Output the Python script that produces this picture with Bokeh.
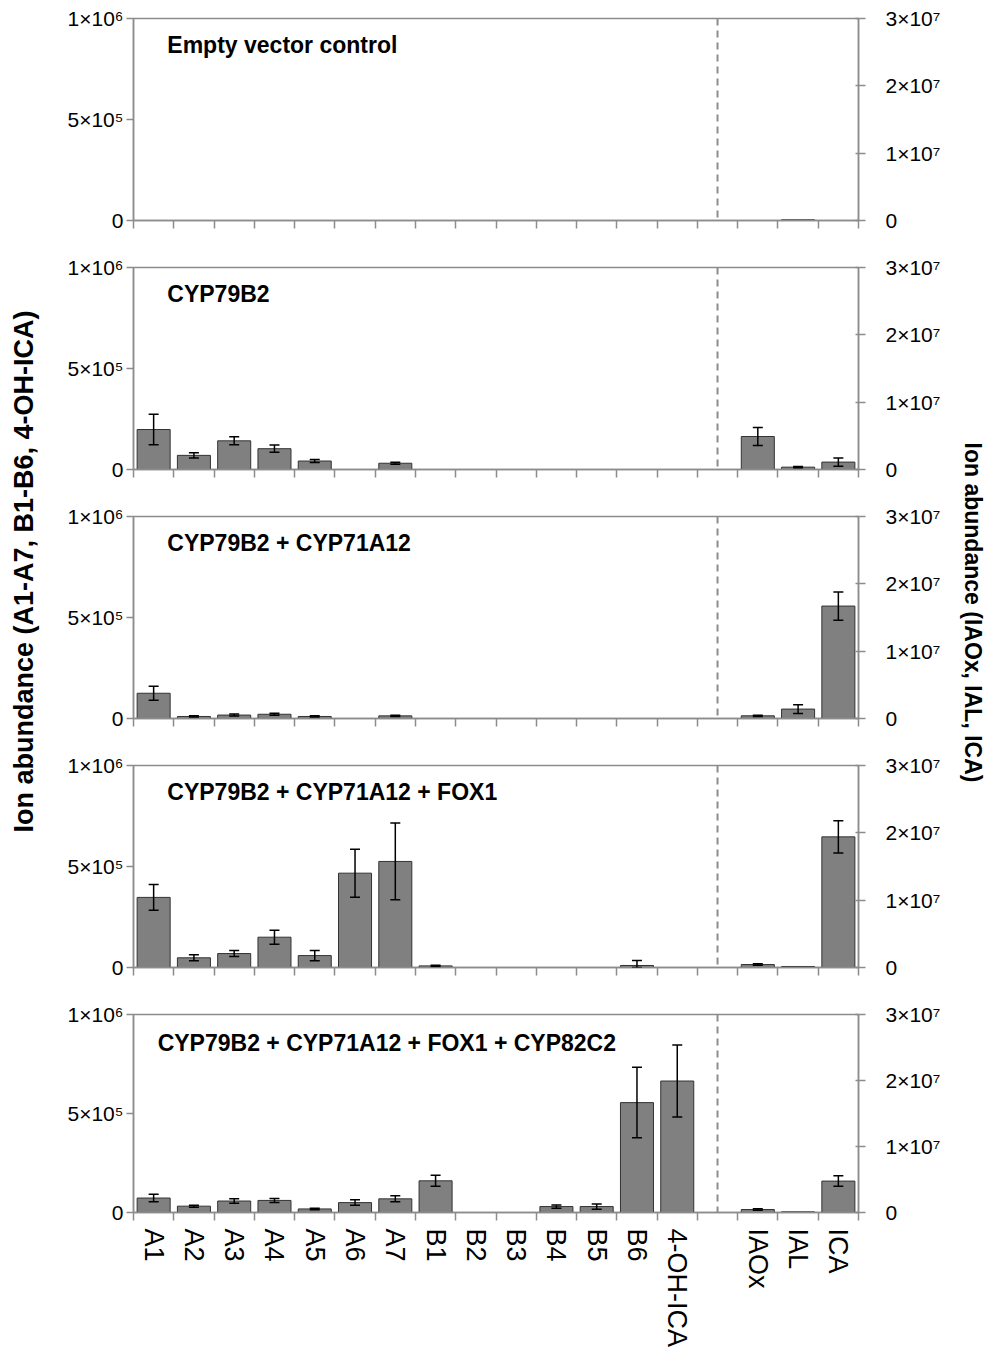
import math
from bokeh.plotting import figure
from bokeh.layouts import column, row
from bokeh.models import (Range1d, LinearAxis, FixedTicker, Span, Label, Whisker,
                          TeeHead, ColumnDataSource)
from bokeh.embed import file_html
from bokeh.resources import INLINE

# ---------------- data ----------------
left_cats = ["A1", "A2", "A3", "A4", "A5", "A6", "A7",
             "B1", "B2", "B3", "B4", "B5", "B6", "4-OH-ICA"]
right_cats = ["IAOx", "IAL", "ICA"]

panel_titles = ["Empty vector control",
                "CYP79B2",
                "CYP79B2 + CYP71A12",
                "CYP79B2 + CYP71A12 + FOX1",
                "CYP79B2 + CYP71A12 + FOX1 + CYP82C2"]

# left-axis compounds (A1-A7, B1-B6, 4-OH-ICA), ion abundance
empty_left = [0, 0, 0, 0, 0, 0, 0, 0, 0, 0, 0, 0, 0, 0]
empty_left_err = [0, 0, 0, 0, 0, 0, 0, 0, 0, 0, 0, 0, 0, 0]
b2_left = [198000, 70000, 142000, 103000, 42000, 0, 31000, 0, 0, 0, 0, 0, 0, 0]
b2_left_err = [75000, 13000, 20000, 18000, 7000, 0, 5000, 0, 0, 0, 0, 0, 0, 0]
b2a12_left = [125000, 10000, 17000, 21000, 10000, 0, 13000, 0, 0, 0, 0, 0, 0, 0]
b2a12_left_err = [35000, 3000, 5000, 5000, 3000, 0, 3000, 0, 0, 0, 0, 0, 0, 0]
fox1_left = [347000, 48000, 69000, 150000, 59000, 467000, 525000, 8000, 0, 0, 0, 0, 10000, 0]
fox1_left_err = [64000, 15000, 15000, 35000, 25000, 119000, 190000, 3000, 0, 0, 0, 0, 25000, 0]
c2_left = [73000, 32000, 58000, 61000, 18000, 50000, 69000, 160000, 0, 0, 30000, 30000, 555000, 664000]
c2_left_err = [19000, 5000, 11000, 10000, 4000, 14000, 15000, 28000, 0, 0, 8000, 13000, 178000, 182000]

# right-axis compounds (IAOx, IAL, ICA)
empty_right = [0, 100000, 0]
empty_right_err = [0, 0, 0]
b2_right = [4900000, 350000, 1100000]
b2_right_err = [1350000, 100000, 600000]
b2a12_right = [400000, 1400000, 16700000]
b2a12_right_err = [100000, 650000, 2100000]
fox1_right = [440000, 150000, 19400000]
fox1_right_err = [100000, 0, 2400000]
c2_right = [450000, 100000, 4760000]
c2_right_err = [100000, 0, 800000]

left_ticks = [0, 500000, 1000000]
left_tick_labels = ["0", "5×10⁵", "1×10⁶"]
right_ticks = [0, 10000000, 20000000, 30000000]
right_tick_labels = ["0", "1×10⁷", "2×10⁷", "3×10⁷"]

left_title = "Ion abundance (A1-A7, B1-B6, 4-OH-ICA)"
right_title = "Ion abundance (IAOx, IAL, ICA)"

panels = [
    (empty_left, empty_left_err, empty_right, empty_right_err),
    (b2_left, b2_left_err, b2_right, b2_right_err),
    (b2a12_left, b2a12_left_err, b2a12_right, b2a12_right_err),
    (fox1_left, fox1_left_err, fox1_right, fox1_right_err),
    (c2_left, c2_left_err, c2_right, c2_right_err),
]

# ---------------- styling / layout ----------------
FONT = "Liberation Sans"
AX = "#8c8c8c"
BAR = "#808080"
BAR_LINE = "#333333"

TOTAL_H = 1350
SIDE_L = 45
SIDE_R = 45
PANEL_W = 1003 - SIDE_L - SIDE_R
FRAME_H = 202
TOP_B = 18
PANEL_H = 249

n_slots = len(left_cats) + 1 + len(right_cats)
left_pos = [i + 0.5 for i in range(len(left_cats))]
right_pos = [len(left_cats) + 1 + i + 0.5 for i in range(len(right_cats))]
all_pos = left_pos + right_pos
all_cats = left_cats + right_cats

figs = []
for k, (lv, le, rv, re) in enumerate(panels):
    last = (k == len(panels) - 1)
    h = TOTAL_H - PANEL_H * (len(panels) - 1) if last else PANEL_H
    p = figure(width=PANEL_W, height=h, output_backend="svg", toolbar_location=None,
               x_range=Range1d(0, n_slots), y_range=Range1d(0, 1000000),
               min_border_left=133 - SIDE_L, min_border_right=PANEL_W + SIDE_L - 858,
               min_border_top=TOP_B, min_border_bottom=(h - TOP_B - FRAME_H))
    p.extra_y_ranges = {"right": Range1d(0, 30000000)}
    p.background_fill_color = "white"
    p.border_fill_color = "white"
    p.outline_line_color = AX
    p.outline_line_width = 1.5
    p.xgrid.visible = False
    p.ygrid.visible = False

    # left axis
    ya = p.yaxis[0]
    ya.ticker = FixedTicker(ticks=left_ticks)
    ya.major_label_overrides = {t: l for t, l in zip(left_ticks, left_tick_labels)}
    ya.axis_line_color = AX
    ya.axis_line_width = 1.5
    ya.major_tick_line_color = AX
    ya.major_tick_line_width = 1.5
    ya.major_tick_out = 7
    ya.major_tick_in = 0
    ya.minor_tick_line_color = None
    ya.major_label_text_font = FONT
    ya.major_label_text_font_size = "21px"
    ya.major_label_text_color = "black"
    ya.major_label_standoff = 3

    # right axis
    ra = LinearAxis(y_range_name="right",
                    ticker=FixedTicker(ticks=right_ticks),
                    major_label_overrides={t: l for t, l in zip(right_ticks, right_tick_labels)})
    ra.axis_line_color = AX
    ra.axis_line_width = 1.5
    ra.major_tick_line_color = AX
    ra.major_tick_line_width = 1.5
    ra.major_tick_out = 7
    ra.major_tick_in = 3
    ra.minor_tick_line_color = None
    ra.major_label_text_font = FONT
    ra.major_label_text_font_size = "21px"
    ra.major_label_text_color = "black"
    ra.major_label_standoff = 20
    p.add_layout(ra, "right")

    # bottom axis: labels at slot centres, tick marks at slot boundaries
    xa = p.xaxis[0]
    boundaries = list(range(n_slots + 1))
    if last:
        xa.ticker = FixedTicker(ticks=all_pos, minor_ticks=boundaries)
        xa.major_label_overrides = {pos: c for pos, c in zip(all_pos, all_cats)}
        xa.major_label_text_font = FONT
        xa.major_label_text_color = "black"
        xa.major_label_text_font_size = "27px"
        xa.major_label_orientation = "vertical"
        xa.major_label_standoff = 8
    else:
        xa.ticker = FixedTicker(ticks=[], minor_ticks=boundaries)
    xa.axis_line_color = AX
    xa.axis_line_width = 1.5
    xa.major_tick_line_color = None
    xa.major_tick_in = 0
    xa.major_tick_out = 0
    xa.minor_tick_line_color = AX
    xa.minor_tick_line_width = 1.5
    xa.minor_tick_out = 8
    xa.minor_tick_in = 0

    # dashed separator between the two groups
    p.add_layout(Span(location=len(left_cats) + 0.5, dimension="height",
                      line_color=AX, line_width=2, line_dash="7 5"))

    # bars (left axis)
    lx = [x for x, v in zip(left_pos, lv) if v > 0]
    lt = [v for v in lv if v > 0]
    p.vbar(x=lx, top=lt, bottom=0, width=0.82, fill_color=BAR,
           line_color=BAR_LINE, line_width=1)
    # bars (right axis)
    rx = [x for x, v in zip(right_pos, rv) if v > 0]
    rt = [v for v in rv if v > 0]
    p.vbar(x=rx, top=rt, bottom=0, width=0.82, fill_color=BAR,
           line_color=BAR_LINE, line_width=1, y_range_name="right")

    # error bars
    lsrc = ColumnDataSource(dict(
        x=[x for x, e in zip(left_pos, le) if e > 0],
        up=[v + e for v, e in zip(lv, le) if e > 0],
        lo=[max(0, v - e) for v, e in zip(lv, le) if e > 0]))
    p.add_layout(Whisker(source=lsrc, base="x", upper="up", lower="lo", level="overlay",
                         line_color="black", line_width=1.5,
                         upper_head=TeeHead(size=10, line_color="black", line_width=1.5),
                         lower_head=TeeHead(size=10, line_color="black", line_width=1.5)))
    rsrc = ColumnDataSource(dict(
        x=[x for x, e in zip(right_pos, re) if e > 0],
        up=[v + e for v, e in zip(rv, re) if e > 0],
        lo=[max(0, v - e) for v, e in zip(rv, re) if e > 0]))
    p.add_layout(Whisker(source=rsrc, base="x", upper="up", lower="lo", level="overlay",
                         y_range_name="right",
                         line_color="black", line_width=1.5,
                         upper_head=TeeHead(size=10, line_color="black", line_width=1.5),
                         lower_head=TeeHead(size=10, line_color="black", line_width=1.5)))

    # panel title
    tx = 0.6 if last else 0.84
    ty = 1000000 * (1 - (29 if last else 26) / FRAME_H)
    p.add_layout(Label(x=tx, y=ty, text=panel_titles[k], text_font=FONT,
                       text_font_size="23px", text_font_style="bold",
                       text_color="black", text_baseline="middle", text_align="left"))
    figs.append(p)


def side_fig(width, text, xc, yc, angle, size):
    s = figure(width=width, height=TOTAL_H, output_backend="svg", toolbar_location=None,
               x_range=Range1d(0, width), y_range=Range1d(0, TOTAL_H),
               x_axis_location=None, y_axis_location=None, min_border=0)
    s.outline_line_color = None
    s.xgrid.visible = False
    s.ygrid.visible = False
    s.background_fill_color = "white"
    s.border_fill_color = "white"
    s.add_layout(Label(x=xc, y=TOTAL_H - yc, text=text, angle=angle, text_font=FONT,
                       text_font_size=size, text_font_style="bold", text_color="black",
                       text_align="center", text_baseline="middle"))
    return s


left_side = side_fig(SIDE_L, left_title, 23, 571, math.pi / 2, "27px")
right_side = side_fig(SIDE_R, right_title, 972 - (1003 - SIDE_R), 612, -math.pi / 2, "23px")

layout = row(left_side, column(*figs, spacing=0), right_side, spacing=0)
open("out.html", "w").write(file_html(layout, INLINE))
